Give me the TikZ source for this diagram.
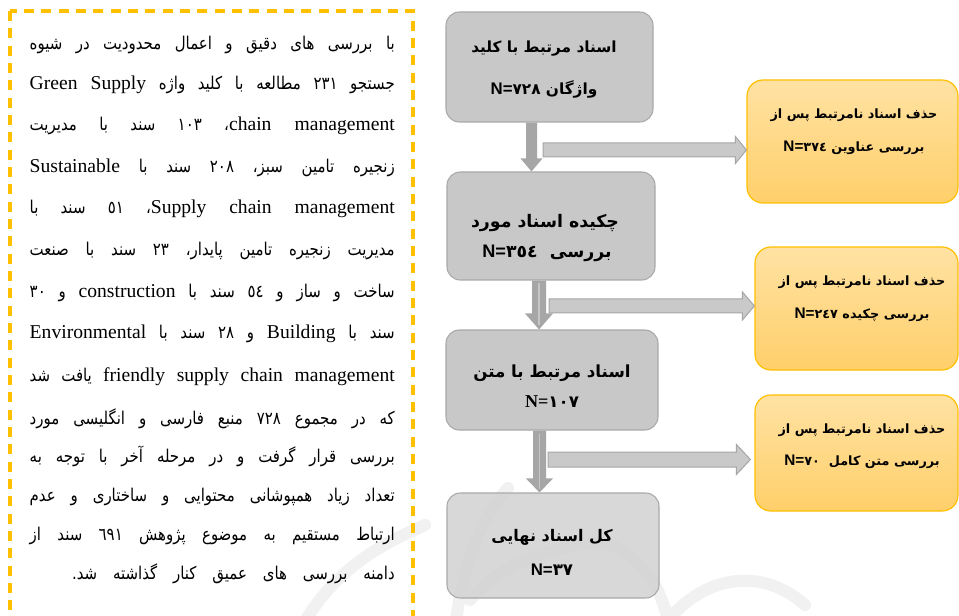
\documentclass[tikz,border=0pt]{standalone}
\usepackage{fontspec}
\setmainfont{Liberation Serif}
\newfontfamily\fa[Script=Arabic]{DejaVu Sans}
\newfontfamily\fabody[Script=Arabic,FakeStretch=0.85]{DejaVu Sans}
\newfontfamily\lsans{Liberation Sans}
\TeXXeTstate=1
\usetikzlibrary{calc,fit}
\definecolor{frameyellow}{HTML}{FFC000}
\definecolor{boxgray}{HTML}{C8C8C8}
\definecolor{boxgraylight}{HTML}{D2D2D2}
\definecolor{boxgrayline}{HTML}{A9A9A9}
\definecolor{arrowdark}{HTML}{A6A6A6}
\definecolor{arrowlight}{HTML}{C9C9C9}
\definecolor{stripegray}{HTML}{C6C6C6}
\definecolor{orangetop}{HTML}{FFE2A3}
\definecolor{orangebot}{HTML}{FFCF6A}
\definecolor{wmark}{HTML}{F1F1F1}
\newlength\bodyw
\setlength\bodyw{273.75pt}
\newlength\lastw
\setlength\lastw{242pt}
\newcommand\rtlline[1]{\hbox to \bodyw{\beginR #1\endR}}
\newcommand\rtllast[1]{\hbox to \bodyw{\hfill\hbox to \lastw{\beginR #1\endR}}}
\newcommand\en[1]{\beginL{\rmfamily\fontsize{14.7}{17}\selectfont #1}\endL}
\newcommand\rl[1]{\beginR #1\endR}
\newcommand\Nsans[1]{{\lsans\fontsize{#1}{#1}\selectfont N=}}
\newcommand\Nserif[1]{{\rmfamily\fontsize{#1}{#1}\selectfont N=}}
\begin{document}
\begin{tikzpicture}[x=0.75pt,y=-0.75pt,
  bodyline/.style={anchor=base east, inner sep=0pt, font=\fabody\fontsize{13.2}{16}\selectfont},
  graybox/.style={draw=boxgrayline, fill=boxgray, rounded corners=10pt, line width=0.8pt, inner sep=0pt},
  orangebox/.style={draw=frameyellow, top color=orangetop, bottom color=orangebot, rounded corners=12pt, line width=0.9pt, inner sep=0pt},
  boxtext/.style={anchor=base, inner sep=0pt, font=\fa\bfseries\fontsize{#1}{#1}\selectfont},
  downarrow/.style={fill=arrowdark},
  sidearrow/.style={fill=arrowlight, draw=arrowdark, line width=0.75pt},
  stripe/.style={draw=stripegray, line width=1.2pt},
  wm/.style={draw=wmark, line width=9pt, line cap=round}]
\useasboundingbox (0,0) rectangle (959,616);
\fill[white] (0,0) rectangle (959,616);

% faint watermark
\draw[wm] (455,630) .. controls (462,565) and (480,520) .. (508,488);
\draw[wm] (470,600) .. controls (500,565) and (545,548) .. (600,542);
\draw[wm] (600,542) .. controls (640,552) and (662,585) .. (670,630);
\draw[wm] (660,630) .. controls (700,575) and (760,565) .. (805,605);
\draw[wm] (300,630) .. controls (330,575) and (372,548) .. (425,525);

% text frame
\draw[frameyellow, line width=2.3pt, dash pattern=on 7.5pt off 5.5pt] (10,11) rectangle (413,660);

% body text
\node[bodyline] (l1) at (395,50) {\rtlline{با بررسی های دقیق و اعمال محدودیت در شیوه}};
\node[bodyline] (l2) at (395,90) {\rtlline{جستجو ٢٣١ مطالعه با کلید واژه \en{Green Supply}}};
\node[bodyline] (l3) at (395,131) {\rtlline{\en{chain management}، ١٠٣ سند با مدیریت}};
\node[bodyline] (l4) at (395,173) {\rtlline{زنجیره تامین سبز، ٢٠٨ سند با \en{Sustainable}}};
\node[bodyline] (l5) at (395,214) {\rtlline{\en{Supply chain management}، ٥١ سند با}};
\node[bodyline] (l6) at (395,256) {\rtlline{مدیریت زنجیره تامین پایدار، ٢٣ سند با صنعت}};
\node[bodyline] (l7) at (395,298) {\rtlline{ساخت و ساز و ٥٤ سند با \en{construction} و ٣٠}};
\node[bodyline] (l8) at (395,339) {\rtlline{سند با \en{Building} و ٢٨ سند با \en{Environmental}}};
\node[bodyline] (l9) at (395,381) {\rtlline{\en{friendly supply chain management} یافت شد}};
\node[bodyline] (l10) at (395,424) {\rtlline{که در مجموع ٧٢٨ منبع فارسی و انگلیسی مورد}};
\node[bodyline] (l11) at (395,462) {\rtlline{بررسی قرار گرفت و در مرحله آخر با توجه به}};
\node[bodyline] (l12) at (395,501) {\rtlline{تعداد زیاد همپوشانی محتوایی و ساختاری و عدم}};
\node[bodyline] (l13) at (395,540) {\rtlline{ارتباط مستقیم به موضوع پژوهش ٦٩١ سند از}};
\node[bodyline] (l14) at (395,579) {\rtllast{دامنه بررسی های عمیق کنار گذاشته شد.}};

% gray boxes
\node[graybox, fit={(446,12) (653,122)}] (b1) {};
\node[graybox, fit={(447,172) (655,280)}] (b2) {};
\node[graybox, fit={(446,330) (658,430)}] (b3) {};
\node[graybox, fill=boxgraylight, fill opacity=0.85, fit={(447,493) (659,598)}] (b4) {};

% orange boxes
\node[orangebox, fit={(747,80) (958,203)}] (o1) {};
\node[orangebox, fit={(755,247) (958,370)}] (o2) {};
\node[orangebox, fit={(755,395) (958,511)}] (o3) {};

% box texts
\node[boxtext=11.5] (t1a) at (544,53) {\rl{اسناد مرتبط با کلید}};
\node[boxtext=11.5] (t1b) at (544,95) {\rl{واژگان \beginL\Nsans{12.6}٧٢٨\endL}};
\node[boxtext=13] (t2a) at (545,228) {\rl{چکیده اسناد مورد}};
\node[boxtext=13] (t2b) at (547,258) {\rl{بررسی \ \beginL\Nsans{13.6}٣٥٤\endL}};
\node[boxtext=12.5] (t3a) at (552,377) {\rl{اسناد مرتبط با متن}};
\node[boxtext=12.5] (t3b) at (552,407) {\beginL\Nserif{13.6}١٠٧\endL};
\node[boxtext=12] (t4a) at (552,541) {\rl{کل اسناد نهایی}};
\node[boxtext=12.5] (t4b) at (552,575) {\beginL\Nsans{12.6}٣٧\endL};
\node[boxtext=9.6] (u1a) at (854,119) {\rl{حذف اسناد نامرتبط پس از}};
\node[boxtext=9.6] (u1b) at (854,152) {\rl{بررسی عناوین \beginL\Nsans{11.5}٣٧٤\endL}};
\node[boxtext=9.6] (u2a) at (862,286) {\rl{حذف اسناد نامرتبط پس از}};
\node[boxtext=9.6] (u2b) at (862,319) {\rl{بررسی چکیده \beginL\Nsans{11.5}٢٤٧\endL}};
\node[boxtext=9.6] (u3a) at (862,433) {\rl{حذف اسناد نامرتبط پس از}};
\node[boxtext=9.6] (u3b) at (862,465) {\rl{بررسی متن کامل \ \beginL\Nsans{11.5}٧٠\endL}};

% down arrows
\coordinate (c1) at (531.5,0);
\coordinate (c2) at (539,0);
\coordinate (c3) at (539.5,0);
\fill[downarrow] ($(c1|-b1.south)+(-5.5,0)$) -- ($(c1|-b2.north)+(-5.5,-13)$) -- ($(c1|-b2.north)+(-11,-13)$) -- (c1|-b2.north) -- ($(c1|-b2.north)+(11,-13)$) -- ($(c1|-b2.north)+(5.5,-13)$) -- ($(c1|-b1.south)+(5.5,0)$) -- cycle;
\fill[downarrow] ($(c2|-b2.south)+(-7,0)$) -- ($(c2|-b3.north)+(-7,-16)$) -- ($(c2|-b3.north)+(-14,-16)$) -- (c2|-b3.north) -- ($(c2|-b3.north)+(14,-16)$) -- ($(c2|-b3.north)+(7,-16)$) -- ($(c2|-b2.south)+(7,0)$) -- cycle;
\draw[stripe] ($(c2|-b2.south)+(0,2)$) -- ($(c2|-b3.north)+(0,-4)$);
\fill[downarrow] ($(c3|-b3.south)+(-6.5,0)$) -- ($(c3|-b4.north)+(-6.5,-14)$) -- ($(c3|-b4.north)+(-13.5,-14)$) -- (c3|-b4.north) -- ($(c3|-b4.north)+(13.5,-14)$) -- ($(c3|-b4.north)+(6.5,-14)$) -- ($(c3|-b3.south)+(6.5,0)$) -- cycle;
\draw[stripe] ($(c3|-b3.south)+(0,3)$) -- ($(c3|-b4.north)+(0,-3)$);

% side arrows
\coordinate (h1) at (543,150);
\coordinate (h2) at (549,306);
\coordinate (h3) at (548,459.5);
\draw[sidearrow] ($(h1)+(0,-7)$) -- ($(h1-|o1.west)+(-11,-7)$) -- ($(h1-|o1.west)+(-11,-13.5)$) -- (h1-|o1.west) -- ($(h1-|o1.west)+(-11,13.5)$) -- ($(h1-|o1.west)+(-11,7)$) -- ($(h1)+(0,7)$) -- cycle;
\draw[sidearrow] ($(h2)+(0,-7)$) -- ($(h2-|o2.west)+(-12,-7)$) -- ($(h2-|o2.west)+(-12,-14)$) -- (h2-|o2.west) -- ($(h2-|o2.west)+(-12,14)$) -- ($(h2-|o2.west)+(-12,7)$) -- ($(h2)+(0,7)$) -- cycle;
\draw[sidearrow] ($(h3)+(0,-7.5)$) -- ($(h3-|o3.west)+(-18,-7.5)$) -- ($(h3-|o3.west)+(-18,-15)$) -- ($(h3-|o3.west)+(-4,0)$) -- ($(h3-|o3.west)+(-18,15)$) -- ($(h3-|o3.west)+(-18,7.5)$) -- ($(h3)+(0,7.5)$) -- cycle;
\end{tikzpicture}
\end{document}
